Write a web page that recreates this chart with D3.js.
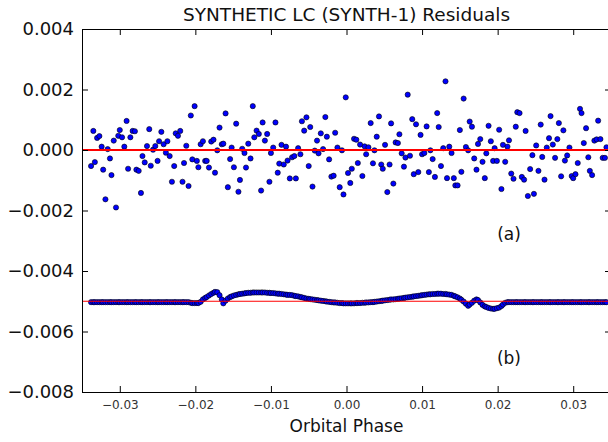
<!DOCTYPE html>
<html>
<head>
<meta charset="utf-8">
<script src="https://cdn.jsdelivr.net/npm/d3@7"></script>
<style>
  body { margin: 0; background: #fff; }
  svg { display: block; font-family: "DejaVu Sans", sans-serif; }
</style>
</head>
<body>
<svg id="chart" width="608" height="442"></svg>
<script>
// Orbital phase of each sample (same sampling in both panels)
const phase = [
  -0.0338, -0.0335, -0.0333, -0.0330, -0.0327, -0.0324, -0.0322, -0.0319, -0.0316, -0.0313,
  -0.0311, -0.0308, -0.0305, -0.0302, -0.0300, -0.0297, -0.0294, -0.0291, -0.0289, -0.0286,
  -0.0283, -0.0280, -0.0278, -0.0275, -0.0272, -0.0270, -0.0267, -0.0264, -0.0261, -0.0259,
  -0.0256, -0.0253, -0.0250, -0.0248, -0.0245, -0.0242, -0.0239, -0.0237, -0.0234, -0.0231,
  -0.0228, -0.0226, -0.0223, -0.0220, -0.0217, -0.0215, -0.0212, -0.0209, -0.0206, -0.0204,
  -0.0201, -0.0198, -0.0196, -0.0193, -0.0190, -0.0187, -0.0185, -0.0182, -0.0179, -0.0176,
  -0.0174, -0.0171, -0.0168, -0.0165, -0.0163, -0.0160, -0.0157, -0.0154, -0.0152, -0.0149,
  -0.0146, -0.0143, -0.0141, -0.0138, -0.0135, -0.0133, -0.0130, -0.0127, -0.0124, -0.0122,
  -0.0119, -0.0116, -0.0113, -0.0111, -0.0108, -0.0105, -0.0102, -0.0100, -0.0097, -0.0094,
  -0.0091, -0.0089, -0.0086, -0.0083, -0.0080, -0.0078, -0.0075, -0.0072, -0.0069, -0.0067,
  -0.0064, -0.0061, -0.0059, -0.0056, -0.0053, -0.0050, -0.0048, -0.0045, -0.0042, -0.0039,
  -0.0037, -0.0034, -0.0031, -0.0028, -0.0026, -0.0023, -0.0020, -0.0017, -0.0015, -0.0012,
  -0.0009, -0.0006, -0.0004, -0.0001, 0.0002, 0.0005, 0.0007, 0.0010, 0.0013, 0.0015,
  0.0018, 0.0021, 0.0024, 0.0026, 0.0029, 0.0032, 0.0035, 0.0037, 0.0040, 0.0043,
  0.0046, 0.0048, 0.0051, 0.0054, 0.0057, 0.0059, 0.0062, 0.0065, 0.0068, 0.0070,
  0.0073, 0.0076, 0.0078, 0.0081, 0.0084, 0.0087, 0.0089, 0.0092, 0.0095, 0.0098,
  0.0100, 0.0103, 0.0106, 0.0109, 0.0111, 0.0114, 0.0117, 0.0120, 0.0122, 0.0125,
  0.0128, 0.0131, 0.0133, 0.0136, 0.0139, 0.0142, 0.0144, 0.0147, 0.0150, 0.0152,
  0.0155, 0.0158, 0.0161, 0.0163, 0.0166, 0.0169, 0.0172, 0.0174, 0.0177, 0.0180,
  0.0183, 0.0185, 0.0188, 0.0191, 0.0194, 0.0196, 0.0199, 0.0202, 0.0205, 0.0207,
  0.0210, 0.0213, 0.0215, 0.0218, 0.0221, 0.0224, 0.0226, 0.0229, 0.0232, 0.0235,
  0.0237, 0.0240, 0.0243, 0.0246, 0.0248, 0.0251, 0.0254, 0.0257, 0.0259, 0.0262,
  0.0265, 0.0268, 0.0270, 0.0273, 0.0276, 0.0279, 0.0281, 0.0284, 0.0287, 0.0289,
  0.0292, 0.0295, 0.0298, 0.0300, 0.0303, 0.0306, 0.0309, 0.0311, 0.0314, 0.0317,
  0.0320, 0.0322, 0.0325, 0.0328, 0.0331, 0.0333, 0.0336, 0.0339, 0.0342, 0.0344
];

// (a) residuals of the fit
const residualA = [
  -0.00053, 0.00063, -0.00040, 0.00040, 0.00046, 0.00011, -0.00065, -0.00163, 0.00003, -0.00028,
  -0.00083, 0.00031, -0.00190, 0.00047, 0.00066, 0.00042, 0.00011, 0.00096, -0.00062, 0.00042,
  0.00063, 0.00062, -0.00065, -0.00069, -0.00142, -0.00020, -0.00041, 0.00013, 0.00069, -0.00052,
  0.00001, 0.00013, -0.00036, 0.00029, 0.00060, 0.00019, -0.00009, 0.00029, -0.00020, -0.00105,
  -0.00053, 0.00055, 0.00047, 0.00063, -0.00105, -0.00043, 0.00014, -0.00119, 0.00114, -0.00031,
  0.00145, -0.00036, -0.00057, 0.00019, 0.00029, -0.00036, -0.00036, -0.00058, 0.00028, 0.00034,
  -0.00075, -0.00001, 0.00074, 0.00019, 0.00021, 0.00121, -0.00123, -0.00030, 0.00008, -0.00057,
  0.00087, -0.00138, -0.00099, 0.00004, -0.00010, -0.00058, 0.00021, -0.00028, 0.00145, 0.00042,
  0.00064, 0.00053, -0.00134, 0.00091, 0.00031, 0.00053, -0.00105, -0.00010, 0.00008, 0.00091,
  -0.00075, -0.00045, 0.00017, -0.00048, 0.00011, -0.00035, -0.00094, -0.00024, -0.00020, -0.00094,
  0.00006, -0.00014, 0.00095, 0.00064, 0.00108, -0.00053, 0.00076, -0.00121, -0.00002, 0.00031,
  -0.00011, 0.00055, 0.00003, 0.00109, 0.00044, -0.00031, -0.00088, -0.00085, 0.00057, 0.00008,
  -0.00123, -0.00001, -0.00147, 0.00174, -0.00076, -0.00109, -0.00062, 0.00037, 0.00034, -0.00043,
  0.00018, -0.00086, 0.00012, -0.00014, 0.00009, 0.00089, -0.00044, -0.00001, 0.00044, 0.00111,
  -0.00048, -0.00062, 0.00017, -0.00139, -0.00048, 0.00088, -0.00111, 0.00025, 0.00023, 0.00052,
  -0.00011, -0.00055, -0.00025, 0.00183, -0.00019, 0.00102, -0.00080, 0.00085, -0.00073, 0.00050,
  -0.00014, -0.00010, 0.00078, -0.00073, -0.00001, -0.00030, -0.00089, 0.00122, 0.00076, -0.00053,
  0.00006, 0.00227, -0.00093, 0.00011, -0.00010, -0.00093, -0.00117, -0.00117, 0.00066, -0.00072,
  0.00170, 0.00010, -0.00001, 0.00094, 0.00077, -0.00028, -0.00065, 0.00020, 0.00036, -0.00039,
  -0.00093, -0.00011, 0.00080, 0.00029, -0.00036, 0.00006, -0.00036, 0.00067, -0.00129, 0.00017,
  -0.00039, 0.00011, 0.00032, -0.00078, -0.00095, 0.00077, 0.00125, 0.00122, -0.00089, -0.00098,
  0.00063, -0.00152, -0.00063, -0.00017, -0.00145, 0.00015, -0.00069, 0.00084, -0.00023, -0.00098,
  0.00008, 0.00039, 0.00112, 0.00018, -0.00026, 0.00036, 0.00089, -0.00087, 0.00065, -0.00035,
  -0.00018, 0.00008, -0.00086, -0.00093, -0.00080, -0.00043, 0.00136, 0.00122, 0.00023, 0.00072,
  -0.00024, -0.00069, -0.00083, 0.00031, 0.00035, 0.00097, 0.00036, -0.00026, -0.00026, 0.00009
];

// (b) model difference, plotted with a -0.005 offset
const residualB = [
  -0.00503, -0.00503, -0.00503, -0.00503, -0.00503, -0.00503, -0.00503, -0.00503, -0.00503, -0.00503,
  -0.00503, -0.00503, -0.00503, -0.00503, -0.00503, -0.00503, -0.00503, -0.00503, -0.00503, -0.00503,
  -0.00503, -0.00503, -0.00503, -0.00503, -0.00503, -0.00503, -0.00503, -0.00503, -0.00503, -0.00503,
  -0.00503, -0.00503, -0.00503, -0.00503, -0.00503, -0.00503, -0.00503, -0.00503, -0.00503, -0.00503,
  -0.00503, -0.00503, -0.00503, -0.00503, -0.00503, -0.00503, -0.00503, -0.00503, -0.00505, -0.00506,
  -0.00506, -0.00506, -0.00506, -0.00502, -0.00494, -0.00489, -0.00486, -0.00481, -0.00476, -0.00472,
  -0.00469, -0.00470, -0.00480, -0.00494, -0.00507, -0.00498, -0.00491, -0.00486, -0.00484, -0.00481,
  -0.00479, -0.00477, -0.00476, -0.00475, -0.00474, -0.00473, -0.00472, -0.00472, -0.00471, -0.00471,
  -0.00471, -0.00471, -0.00471, -0.00471, -0.00471, -0.00472, -0.00472, -0.00473, -0.00473, -0.00474,
  -0.00475, -0.00475, -0.00476, -0.00477, -0.00478, -0.00479, -0.00479, -0.00480, -0.00482, -0.00483,
  -0.00484, -0.00486, -0.00487, -0.00489, -0.00491, -0.00492, -0.00493, -0.00494, -0.00495, -0.00496,
  -0.00497, -0.00498, -0.00499, -0.00500, -0.00501, -0.00502, -0.00503, -0.00504, -0.00504, -0.00505,
  -0.00506, -0.00506, -0.00507, -0.00507, -0.00507, -0.00507, -0.00507, -0.00507, -0.00506, -0.00506,
  -0.00506, -0.00505, -0.00505, -0.00504, -0.00504, -0.00503, -0.00503, -0.00502, -0.00501, -0.00500,
  -0.00499, -0.00498, -0.00497, -0.00496, -0.00495, -0.00494, -0.00494, -0.00493, -0.00492, -0.00491,
  -0.00490, -0.00489, -0.00488, -0.00487, -0.00486, -0.00485, -0.00484, -0.00483, -0.00482, -0.00481,
  -0.00480, -0.00479, -0.00478, -0.00477, -0.00477, -0.00476, -0.00476, -0.00475, -0.00475, -0.00475,
  -0.00476, -0.00476, -0.00477, -0.00478, -0.00479, -0.00482, -0.00484, -0.00487, -0.00491, -0.00495,
  -0.00501, -0.00508, -0.00515, -0.00511, -0.00505, -0.00498, -0.00494, -0.00496, -0.00504, -0.00512,
  -0.00517, -0.00519, -0.00522, -0.00524, -0.00525, -0.00525, -0.00523, -0.00521, -0.00516, -0.00511,
  -0.00505, -0.00503, -0.00503, -0.00503, -0.00503, -0.00503, -0.00503, -0.00503, -0.00503, -0.00503,
  -0.00503, -0.00503, -0.00503, -0.00503, -0.00503, -0.00503, -0.00503, -0.00503, -0.00503, -0.00503,
  -0.00503, -0.00503, -0.00503, -0.00503, -0.00503, -0.00503, -0.00503, -0.00503, -0.00503, -0.00503,
  -0.00503, -0.00503, -0.00503, -0.00503, -0.00503, -0.00503, -0.00503, -0.00503, -0.00503, -0.00503,
  -0.00503, -0.00503, -0.00503, -0.00503, -0.00503, -0.00503, -0.00503, -0.00503, -0.00503, -0.00503
];

const zeroLines = [0, -0.005];
const xTicks = [-0.03, -0.02, -0.01, 0.00, 0.01, 0.02, 0.03];
const yTicks = [-0.008, -0.006, -0.004, -0.002, 0.000, 0.002, 0.004];
const panelLabels = [
  { text: '(a)', x: 0.0215, y: -0.00278 },
  { text: '(b)', x: 0.0215, y: -0.00688 }
];

const svg = d3.select('#chart');
const plotLeft = 82, plotRight = 611, plotTop = 29, plotBottom = 392;

const x = d3.scaleLinear().domain([-0.035, 0.035]).range([plotLeft, plotRight]);
const y = d3.scaleLinear().domain([-0.008, 0.004]).range([plotBottom, plotTop]);

svg.append('defs').append('clipPath')
    .attr('id', 'plotClip')
    .append('rect')
    .attr('x', plotLeft).attr('y', plotTop)
    .attr('width', plotRight - plotLeft).attr('height', plotBottom - plotTop);

const plot = svg.append('g').attr('clip-path', 'url(#plotClip)');

function drawPoints(values) {
    plot.append('g')
        .selectAll('circle')
        .data(values)
        .enter()
        .append('circle')
        .attr('cx', (d, i) => x(phase[i]))
        .attr('cy', d => y(d))
        .attr('r', 2.6)
        .attr('fill', '#0000ff')
        .attr('stroke', '#000')
        .attr('stroke-width', 0.6);
}

drawPoints(residualA);
drawPoints(residualB);

// Reference lines on top of the points
plot.selectAll('line.ref')
    .data(zeroLines)
    .enter()
    .append('line')
    .attr('class', 'ref')
    .attr('x1', plotLeft)
    .attr('x2', plotRight)
    .attr('y1', d => y(d))
    .attr('y2', d => y(d))
    .attr('stroke', '#ff0000')
    .attr('stroke-width', (d, i) => i === 0 ? 2 : 1.2);

// Axes, ticks pointing inwards
function styleAxis(g) {
    g.attr('font-family', null).attr('font-size', null);
    g.select('.domain').attr('stroke', '#000').attr('stroke-width', 1);
    g.selectAll('.tick line').attr('stroke', '#000');
}

svg.append('g')
    .attr('transform', `translate(0,${plotBottom})`)
    .call(d3.axisBottom(x).tickValues(xTicks).tickSize(-6).tickSizeOuter(0)
        .tickPadding(8).tickFormat(d3.format('.2f')))
    .call(styleAxis)
    .selectAll('text')
    .style('font-size', '12px')
    .style('fill', '#333');

svg.append('g')
    .attr('transform', `translate(0,${plotTop})`)
    .call(d3.axisTop(x).tickValues(xTicks).tickSize(-6).tickSizeOuter(0).tickFormat(''))
    .call(styleAxis);

svg.append('g')
    .attr('transform', `translate(${plotLeft},0)`)
    .call(d3.axisLeft(y).tickValues(yTicks).tickSize(-6).tickSizeOuter(0)
        .tickPadding(8).tickFormat(d3.format('.3f')))
    .call(styleAxis)
    .selectAll('text')
    .style('font-size', '18px')
    .style('fill', '#111');

svg.append('g')
    .attr('transform', `translate(${plotRight},0)`)
    .call(d3.axisRight(y).tickValues(yTicks).tickSize(-6).tickSizeOuter(0).tickFormat(''))
    .call(styleAxis);

// Panel labels
svg.selectAll('text.panel')
    .data(panelLabels)
    .enter()
    .append('text')
    .attr('class', 'panel')
    .attr('x', d => x(d.x))
    .attr('y', d => y(d.y))
    .attr('dy', '0.35em')
    .attr('text-anchor', 'middle')
    .style('font-size', '17px')
    .style('fill', '#111')
    .text(d => d.text);

// Title and axis label
svg.append('text')
    .attr('x', x(0))
    .attr('y', 21)
    .attr('text-anchor', 'middle')
    .style('font-size', '18.5px')
    .style('fill', '#111')
    .text('SYNTHETIC LC (SYNTH-1) Residuals');

svg.append('text')
    .attr('x', x(0))
    .attr('y', 432)
    .attr('text-anchor', 'middle')
    .style('font-size', '17px')
    .style('fill', '#111')
    .text('Orbital Phase');
</script>
</body>
</html>
